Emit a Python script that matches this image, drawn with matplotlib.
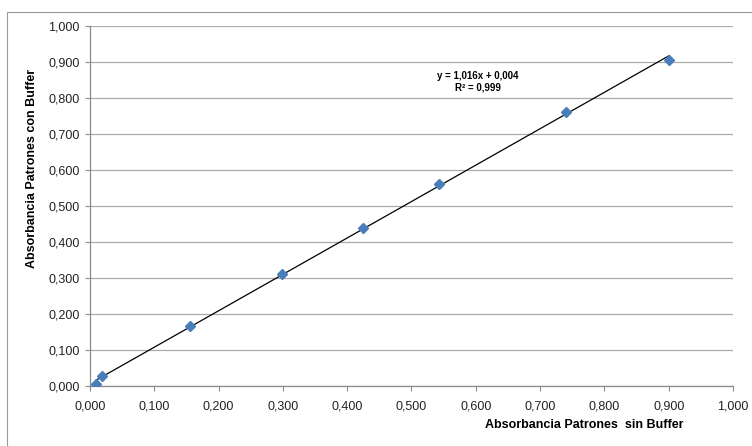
import numpy as np
import matplotlib.pyplot as plt
from matplotlib.patches import Rectangle

plt.rcParams['font.family'] = ['Liberation Sans', 'DejaVu Sans']

# absorbancia sin buffer (x) vs con buffer (y)
sin_buffer = [0.010, 0.019, 0.155, 0.299, 0.424, 0.543, 0.740, 0.901]
con_buffer = [0.004, 0.026, 0.165, 0.311, 0.439, 0.561, 0.761, 0.906]
ticks = [0.0, 0.1, 0.2, 0.3, 0.4, 0.5, 0.6, 0.7, 0.8, 0.9, 1.0]
ecuacion = "y = 1,016x + 0,004\nR² = 0,999"

fig = plt.figure(figsize=(7.52, 4.46), dpi=100)
ax = fig.add_axes([90/752, 1 - 385.5/446, 643/752, 359.5/446])

# outer chart border (only top and left visible, rest is cropped)
fig.patches.append(Rectangle((7/752, -0.1), 1.2, 1.1 - 12/446, transform=fig.transFigure,
                             fill=False, edgecolor='#9a9a9a', linewidth=0.8))

ax.set_xlim(0, 1)
ax.set_ylim(0, 1)
ax.set_xticks(ticks)
ax.set_yticks(ticks)
fmt = lambda v: ("%.3f" % v).replace('.', ',')
ax.set_xticklabels([fmt(t) for t in ticks], fontsize=9, color='#222222')
ax.set_yticklabels([fmt(t) for t in ticks], fontsize=9, color='#222222')
ax.tick_params(axis='both', direction='out', length=3.5, color='#8a8a8a', width=0.8)
ax.tick_params(axis='x', pad=7)
ax.tick_params(axis='y', pad=4)

ax.grid(axis='y', color='#ababab', linewidth=0.9)
ax.set_axisbelow(True)
for s in ['top', 'right']:
    ax.spines[s].set_visible(False)
for s in ['left', 'bottom']:
    ax.spines[s].set_color('#8a8a8a')
    ax.spines[s].set_linewidth(0.9)

# linear trendline over data range
m, b = np.polyfit(sin_buffer, con_buffer, 1)
xs = np.array([min(sin_buffer), max(sin_buffer)])
ax.plot(xs, m * xs + b, color='black', linewidth=0.9, zorder=2)

ax.plot(sin_buffer, con_buffer, linestyle='none', marker='D', markersize=5.5,
        color='#4a7ebb', markeredgecolor='#4a7ebb', zorder=3)

ax.text(0.603, 0.845, ecuacion, fontsize=7, fontweight='bold', ha='center', va='center',
        transform=ax.transAxes, linespacing=1.2)

fig.text(584/752, 1 - 425/446, "Absorbancia Patrones  sin Buffer", fontsize=9,
         fontweight='bold', ha='center', va='center')
fig.text(32/752, 1 - 168/446, "Absorbancia Patrones con Buffer", fontsize=9,
         fontweight='bold', ha='center', va='center', rotation=90)

fig.savefig('out.png', dpi=100)
